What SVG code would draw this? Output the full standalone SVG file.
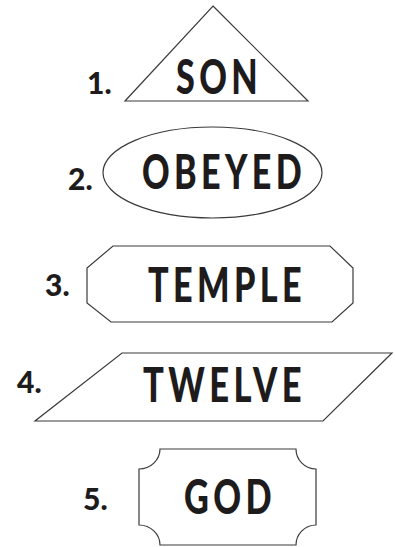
<svg xmlns="http://www.w3.org/2000/svg" width="395" height="547" viewBox="0 0 395 547">
<style>
.shape{fill:none;stroke:#3a3a3a;stroke-width:1.2;stroke-linejoin:miter}
.word{font-family:Lato,"Open Sans","DejaVu Sans",sans-serif;font-weight:900;font-size:47px;fill:#1e1b1c;letter-spacing:6px}
.num{font-family:Lato,"Open Sans","DejaVu Sans",sans-serif;font-weight:900;font-size:30px;fill:#1e1b1c}
</style>
<rect width="395" height="547" fill="#ffffff"/>
<g id="node1">
<polygon class="shape" points="213,6 308,101 125,101"/>
<text class="num" x="87" y="94">1.</text>
<text class="word" x="176" y="94" textLength="86" lengthAdjust="spacingAndGlyphs">SON</text>
</g>
<g id="node2">
<ellipse class="shape" cx="212.5" cy="172.5" rx="109.5" ry="45.5"/>
<text class="num" x="68" y="190">2.</text>
<text class="word" x="142" y="189" textLength="164" lengthAdjust="spacingAndGlyphs">OBEYED</text>
</g>
<g id="node3">
<polygon class="shape" points="113,246 330,246 353,268 353,303 332,322 111,322 87,303 87,268"/>
<text class="num" x="45" y="296">3.</text>
<text class="word" x="148" y="302" textLength="158" lengthAdjust="spacingAndGlyphs">TEMPLE</text>
</g>
<g id="node4">
<polygon class="shape" points="122,353 392,353 323,421 35,421"/>
<text class="num" x="17" y="393">4.</text>
<text class="word" x="143" y="402" textLength="163" lengthAdjust="spacingAndGlyphs">TWELVE</text>
</g>
<g id="node5">
<path class="shape" d="M160,449 H296 A20,20 0 0 0 316,469 V525 A20,20 0 0 0 296,545 H160 A21,20 0 0 0 139,525 V469 A21,20 0 0 0 160,449 Z"/>
<text class="num" x="83" y="510">5.</text>
<text class="word" x="184" y="514" textLength="92" lengthAdjust="spacingAndGlyphs">GOD</text>
</g>
<g id="connectors"></g>
</svg>
